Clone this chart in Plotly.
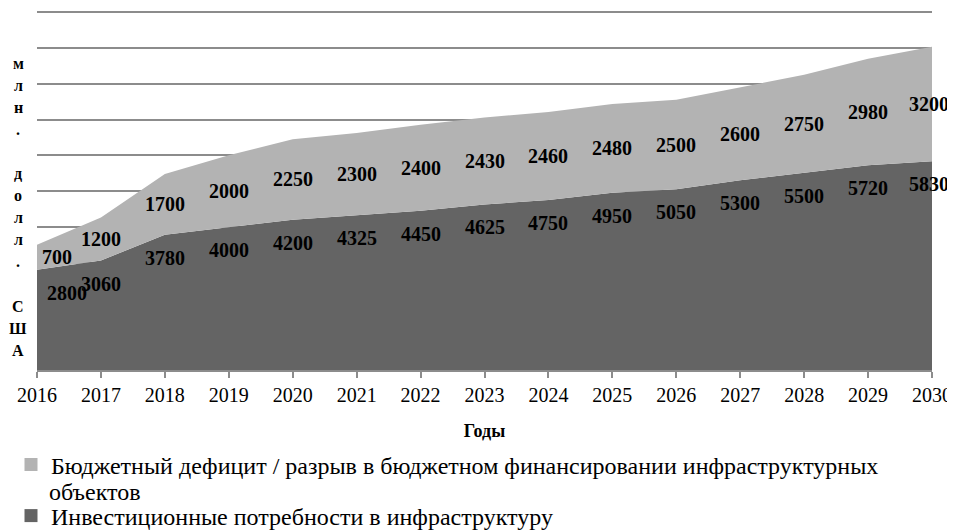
import plotly.graph_objects as go

# ==========================================
# DATA
# ==========================================

years = [2016, 2017, 2018, 2019, 2020, 2021, 2022, 2023,
         2024, 2025, 2026, 2027, 2028, 2029, 2030]

investment = [2800, 3060, 3780, 4000, 4200, 4325, 4450, 4625,
              4750, 4950, 5050, 5300, 5500, 5720, 5830]

deficit = [700, 1200, 1700, 2000, 2250, 2300, 2400, 2430,
           2460, 2480, 2500, 2600, 2750, 2980, 3200]

name_investment = "Инвестиционные потребности в инфраструктуру"
name_deficit = ("Бюджетный дефицит / разрыв в бюджетном финансировании "
                "инфраструктурных")
name_deficit_tail = "объектов"

# axis title written one letter per line ("" = empty line)
y_title = ["м", "л", "н", ".", "", "д", "о", "л", "л", ".", "", "С", "Ш", "А"]

FONT = "Liberation Serif"
DARK = "#646464"
LIGHT = "#b3b3b3"
GRID = "#8c8c8c"

# the page adds an 8px body margin, so the figure is 8px smaller
W, H = 947, 524
ML, MR, MT, MB = 29, 23, 2, 162
PH = H - MT - MB


def py(y_page):
    # page pixel row -> paper y
    return (H - MB - (y_page - 8)) / PH


def px(x_page):
    # page pixel column -> paper x
    return (x_page - 8 - ML) / (W - ML - MR)


fig = go.Figure()

fig.add_trace(
    go.Scatter(
        x=years,
        y=investment,
        mode="lines",
        name=name_investment,
        stackgroup="one",
        line=dict(width=0, color=DARK),
        fillcolor=DARK,
        showlegend=False
    )
)

fig.add_trace(
    go.Scatter(
        x=years,
        y=deficit,
        mode="lines",
        name=name_deficit,
        stackgroup="one",
        line=dict(width=0, color=LIGHT),
        fillcolor=LIGHT,
        showlegend=False
    )
)

# legend entries drawn as small squares, like the original
fig.add_trace(
    go.Scatter(
        x=[None], y=[None], mode="markers", name=name_deficit,
        marker=dict(symbol="square", size=13, color=LIGHT), legend="legend"
    )
)
fig.add_trace(
    go.Scatter(
        x=[None], y=[None], mode="markers", name=name_investment,
        marker=dict(symbol="square", size=13, color=DARK), legend="legend2"
    )
)

# ==========================================
# DATA LABELS
# ==========================================

label_font = dict(family=FONT, size=20, color="black")
last = len(years) - 1

for i, yr in enumerate(years):
    first = i == 0
    shift = 8 if first else (-3 if i == last else 0)
    # dark series: just below the top of the dark area
    fig.add_annotation(
        x=yr, y=investment[i], text="<b>%d</b>" % investment[i],
        showarrow=False, font=label_font, yshift=-23,
        xanchor="left" if first else "center", xshift=shift
    )
    # light series: middle of the light band
    fig.add_annotation(
        x=yr, y=investment[i] + deficit[i] / 2, text="<b>%d</b>" % deficit[i],
        showarrow=False, font=label_font,
        xanchor="left" if first else "center", xshift=3 if first else shift
    )

# vertical y-axis title
for k, ch in enumerate(y_title):
    if not ch:
        continue
    fig.add_annotation(
        xref="paper", yref="paper",
        x=px(18), y=py(63 + k * 22.1),
        text="<b>%s</b>" % ch, showarrow=False,
        font=dict(family=FONT, size=16, color="black"),
        xanchor="center", yanchor="middle"
    )

# wrapped tail of the first legend entry
fig.add_annotation(
    xref="paper", yref="paper",
    x=px(47), y=py(492),
    text=name_deficit_tail, showarrow=False,
    font=dict(family=FONT, size=24, color="black"),
    xanchor="left", yanchor="middle"
)

legend_font = dict(family=FONT, size=24, color="black")

fig.update_layout(
    width=W,
    height=H,
    margin=dict(l=ML, r=MR, t=MT, b=MB, autoexpand=False),
    plot_bgcolor="white",
    paper_bgcolor="white",
    font=dict(family=FONT, color="black"),
    showlegend=True,
    legend=dict(
        x=px(11), y=py(465), xanchor="left", yanchor="middle",
        font=legend_font, bgcolor="rgba(0,0,0,0)"
    ),
    legend2=dict(
        x=px(11), y=py(516), xanchor="left", yanchor="middle",
        font=legend_font, bgcolor="rgba(0,0,0,0)"
    )
)

fig.update_xaxes(
    range=[2016, 2030],
    tickvals=years,
    ticks="outside",
    ticklen=6,
    tickcolor=GRID,
    tickwidth=1.5,
    showline=True,
    linecolor=GRID,
    linewidth=1.5,
    showgrid=False,
    automargin=False,
    tickfont=dict(family=FONT, size=20, color="black"),
    title=dict(text="<b>Годы</b>", font=dict(family=FONT, size=18, color="black"),
               standoff=20)
)

fig.update_yaxes(
    range=[0, 10060],
    tickvals=[1000 * k for k in range(1, 11)],
    showticklabels=False,
    showgrid=True,
    gridcolor=GRID,
    gridwidth=1.5,
    zeroline=False,
    showline=False,
    automargin=False
)

fig.write_html("out.html")
